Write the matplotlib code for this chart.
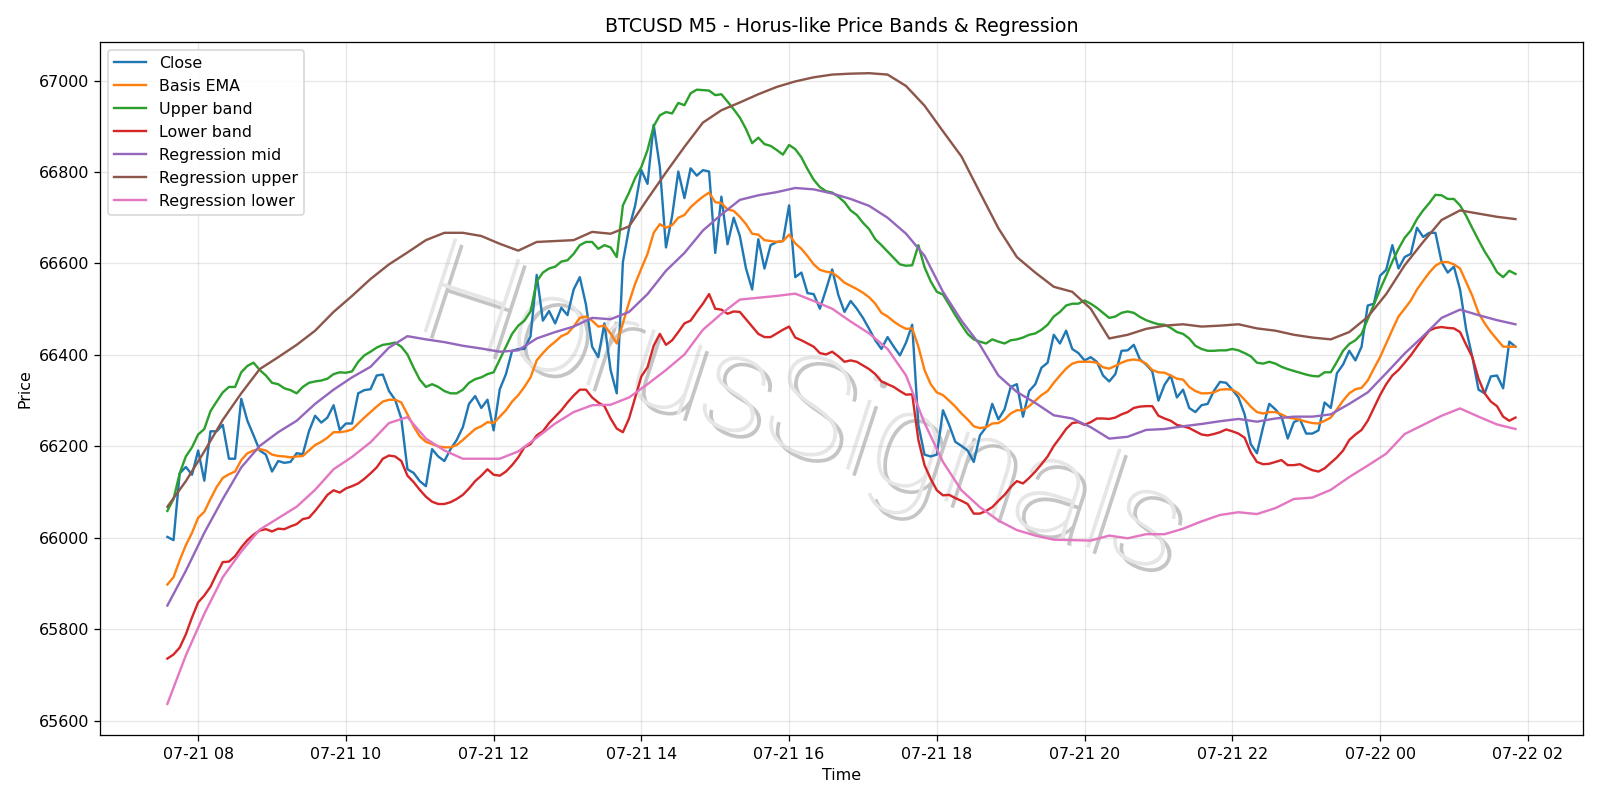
import matplotlib

matplotlib.use("Agg")
import matplotlib.pyplot as plt
import matplotlib.patheffects as pe
import pandas as pd

# 5-minute bars, 07-21 07:35 -> 07-22 01:50
start = "2024-07-21 07:35"
n_bars = 220

close = [
    66002, 65995, 66141, 66155, 66138, 66191, 66125, 66233, 66233, 66247, 66173, 66173, 66304, 66256,
    66224, 66191, 66182, 66145, 66168, 66164, 66166, 66185, 66183, 66233, 66267, 66252, 66263, 66290,
    66236, 66250, 66250, 66316, 66323, 66325, 66355, 66357, 66321, 66302, 66261, 66150, 66142, 66124,
    66113, 66194, 66178, 66168, 66194, 66214, 66242, 66293, 66310, 66284, 66302, 66235, 66325,
    66358, 66409, 66413, 66413, 66441, 66575, 66475, 66496, 66469, 66503, 66487, 66543, 66570, 66510,
    66418, 66395, 66469, 66367, 66316, 66603, 66677, 66727, 66804, 66774, 66903, 66811, 66635, 66704,
    66801, 66743, 66808, 66792, 66804, 66801, 66623, 66746, 66642, 66700, 66660, 66589, 66543, 66653,
    66589, 66640, 66647, 66649, 66727, 66570, 66580, 66535, 66533, 66501, 66543, 66587, 66531, 66494,
    66518, 66501, 66481, 66457, 66432, 66413, 66439, 66418, 66399, 66427, 66466, 66247, 66182, 66178,
    66182, 66279, 66247, 66210, 66201, 66191, 66166, 66224, 66242, 66293, 66259, 66281, 66330,
    66336, 66265, 66321, 66336, 66372, 66383, 66444, 66425, 66453, 66413, 66404, 66388, 66395, 66385,
    66355, 66342, 66358, 66409, 66410, 66422, 66390, 66379, 66364, 66300, 66335, 66355, 66307, 66324,
    66284, 66275, 66290, 66293, 66321, 66341, 66339, 66324, 66307, 66270, 66205, 66185, 66242, 66293,
    66281, 66265, 66217, 66253, 66259, 66228, 66228, 66235, 66296, 66284, 66360, 66379, 66409, 66388,
    66418, 66508, 66512, 66573, 66586, 66640, 66589, 66614, 66621, 66678, 66658, 66667, 66667, 66603,
    66580, 66593, 66543, 66455, 66395, 66324, 66316, 66353, 66355, 66327, 66429, 66418,
]

basis_ema = [
    65898, 65914, 65951, 65984, 66011, 66044, 66057, 66085, 66111, 66131, 66139, 66145, 66170, 66185,
    66191, 66194, 66191, 66182, 66179, 66178, 66176, 66178, 66179, 66191, 66203, 66210, 66219, 66231,
    66231, 66233, 66237, 66250, 66263, 66275, 66287, 66298, 66302, 66302, 66296, 66270, 66244, 66222,
    66210, 66205, 66200, 66198, 66198, 66203, 66214, 66226, 66238, 66244, 66253, 66251, 66265,
    66279, 66298, 66312, 66330, 66351, 66388, 66404, 66418, 66429, 66441, 66447, 66462, 66481, 66484,
    66475, 66462, 66464, 66447, 66425, 66469, 66515, 66556, 66589, 66621, 66667, 66686, 66678, 66684,
    66700, 66706, 66723, 66735, 66746, 66755, 66734, 66732, 66718, 66715, 66702, 66686, 66665, 66663,
    66651, 66649, 66647, 66649, 66663, 66644, 66632, 66616, 66598, 66586, 66582, 66580, 66570, 66558,
    66551, 66544, 66536, 66526, 66512, 66492, 66484, 66473, 66464, 66457, 66458, 66418, 66367, 66336,
    66318, 66312, 66300, 66287, 66272, 66259, 66244, 66240, 66242, 66250, 66251, 66259, 66272,
    66279, 66279, 66288, 66300, 66312, 66321, 66339, 66355, 66370, 66381, 66385, 66385, 66385, 66383,
    66373, 66370, 66376, 66383, 66388, 66390, 66388, 66381, 66367, 66362, 66361, 66355, 66348, 66346,
    66330, 66321, 66316, 66316, 66318, 66324, 66325, 66324, 66316, 66302, 66287, 66275, 66272, 66275,
    66275, 66270, 66263, 66261, 66258, 66254, 66251, 66250, 66256, 66263, 66281, 66300, 66316, 66325,
    66328, 66344, 66370, 66395, 66425, 66455, 66484, 66501, 66519, 66543, 66562, 66580, 66595, 66603,
    66603, 66598, 66589, 66559, 66529, 66492, 66469, 66450, 66434, 66418, 66418, 66418,
]

upper_band = [
    66059, 66085, 66141, 66178, 66198, 66226, 66238, 66277, 66298, 66318, 66330, 66330, 66362, 66376,
    66383, 66367, 66355, 66339, 66336, 66327, 66323, 66316, 66330, 66339, 66342, 66344, 66348, 66358,
    66362, 66361, 66364, 66385, 66399, 66407, 66416, 66422, 66424, 66427, 66418, 66401, 66372, 66346,
    66330, 66336, 66330, 66321, 66316, 66316, 66324, 66339, 66347, 66351, 66358, 66362, 66390,
    66418, 66446, 66464, 66475, 66495, 66561, 66580, 66589, 66593, 66604, 66607, 66621, 66640, 66647,
    66647, 66632, 66640, 66635, 66614, 66727, 66755, 66787, 66811, 66848, 66900, 66924, 66931, 66928,
    66951, 66946, 66972, 66980, 66979, 66978, 66968, 66970, 66954, 66937, 66919, 66894, 66863, 66875,
    66861, 66857, 66848, 66838, 66859, 66850, 66832, 66806, 66783, 66767, 66758, 66755, 66746, 66734,
    66716, 66706, 66689, 66675, 66653, 66640, 66626, 66612, 66598, 66595, 66596, 66640, 66592, 66561,
    66538, 66532, 66510, 66487, 66466, 66446, 66434, 66429, 66425, 66434, 66429, 66425, 66432,
    66434, 66438, 66444, 66447, 66455, 66466, 66484, 66494, 66508, 66512, 66512, 66519, 66512, 66503,
    66492, 66481, 66484, 66492, 66495, 66492, 66483, 66476, 66471, 66467, 66466, 66459, 66450, 66446,
    66436, 66420, 66413, 66409, 66409, 66410, 66410, 66413, 66410, 66404, 66397, 66383, 66381, 66385,
    66381, 66374, 66369, 66365, 66361, 66357, 66354, 66353, 66362, 66362, 66385, 66409, 66424, 66432,
    66446, 66478, 66510, 66543, 66573, 66604, 66632, 66656, 66672, 66697, 66716, 66732, 66750, 66749,
    66741, 66741, 66727, 66704, 66677, 66651, 66626, 66605, 66581, 66570, 66584, 66577,
]

lower_band = [
    65736, 65745, 65760, 65789, 65826, 65859, 65874, 65893, 65921, 65947, 65948, 65960, 65979, 65995,
    66007, 66016, 66019, 66014, 66020, 66019, 66025, 66030, 66041, 66044, 66059, 66076, 66094, 66104,
    66099, 66108, 66113, 66119, 66129, 66141, 66154, 66173, 66180, 66178, 66168, 66136, 66122, 66105,
    66090, 66079, 66074, 66074, 66078, 66085, 66094, 66108, 66124, 66136, 66150, 66138, 66136,
    66145, 66159, 66176, 66198, 66205, 66224, 66233, 66251, 66265, 66279, 66296, 66311, 66324, 66324,
    66307, 66296, 66288, 66261, 66239, 66231, 66261, 66307, 66353, 66373, 66420, 66446, 66422, 66432,
    66450, 66469, 66475, 66494, 66512, 66533, 66501, 66499, 66490, 66495, 66494, 66478, 66462, 66446,
    66439, 66439, 66447, 66455, 66462, 66438, 66432, 66425, 66418, 66404, 66401, 66407, 66397, 66385,
    66388, 66385, 66377, 66369, 66358, 66342, 66336, 66330, 66321, 66313, 66314, 66214, 66159, 66129,
    66104, 66093, 66094, 66087, 66081, 66074, 66053, 66053, 66059, 66067, 66081, 66094, 66111,
    66124, 66119, 66131, 66145, 66161, 66178, 66201, 66219, 66238, 66251, 66253, 66247, 66253, 66261,
    66261, 66260, 66263, 66270, 66275, 66284, 66287, 66288, 66288, 66267, 66261, 66256, 66247, 66244,
    66240, 66233, 66226, 66224, 66227, 66231, 66237, 66233, 66228, 66219, 66187, 66166, 66161, 66162,
    66166, 66170, 66159, 66159, 66161, 66154, 66148, 66145, 66152, 66164, 66176, 66191, 66214, 66226,
    66236, 66256, 66284, 66312, 66336, 66355, 66367, 66383, 66399, 66418, 66436, 66453, 66459, 66461,
    66459, 66458, 66450, 66422, 66395, 66348, 66316, 66298, 66288, 66265, 66256, 66263,
]

# regression channel, read every 15 minutes (every 3rd bar)
reg_mid = [
    65852, 65928, 66011, 66085, 66154, 66201, 66231, 66256, 66293, 66324,
    66351, 66374, 66416, 66441, 66434, 66428, 66420, 66414, 66407,
    66410, 66436, 66450, 66462, 66481, 66478, 66494, 66533, 66584,
    66623, 66672, 66707, 66739, 66749, 66756, 66765, 66762, 66753,
    66741, 66726, 66700, 66665, 66617, 66538, 66475, 66422, 66355,
    66319, 66295, 66268, 66261, 66242, 66217, 66221, 66236, 66238, 66244,
    66249, 66255, 66260, 66254, 66261, 66265, 66265, 66270, 66293,
    66318, 66360, 66403, 66441, 66481, 66499, 66487, 66476, 66467,
]

reg_upper = [
    66068, 66124, 66189, 66258, 66316, 66369, 66395, 66422, 66453, 66494,
    66529, 66566, 66598, 66624, 66651, 66667, 66667, 66660, 66643,
    66628, 66647, 66649, 66651, 66669, 66665, 66681, 66741, 66799,
    66855, 66908, 66935, 66952, 66970, 66986, 66998, 67007, 67013,
    67015, 67016, 67013, 66988, 66945, 66889, 66834, 66755, 66677,
    66614, 66580, 66549, 66538, 66501, 66436, 66444, 66457, 66464, 66467,
    66462, 66464, 66467, 66458, 66453, 66444, 66438, 66434, 66450,
    66483, 66533, 66596, 66647, 66695, 66716, 66709, 66702, 66697,
]

reg_lower = [
    65637, 65743, 65834, 65914, 65970, 66018, 66043, 66068, 66105, 66150,
    66177, 66209, 66251, 66264, 66217, 66191, 66173, 66173, 66173,
    66189, 66219, 66250, 66275, 66290, 66291, 66307, 66336, 66367,
    66401, 66455, 66490, 66521, 66525, 66529, 66534, 66518, 66501,
    66473, 66447, 66413, 66355, 66251, 66166, 66104, 66067, 66038,
    66017, 66005, 65996, 65995, 65994, 66005, 65999, 66008, 66008, 66020,
    66036, 66050, 66056, 66052, 66065, 66085, 66088, 66105, 66133,
    66158, 66184, 66227, 66247, 66267, 66283, 66265, 66248, 66238,
]


def main() -> None:
    times = pd.date_range(start, periods=n_bars, freq="5min")
    t15 = times[::3]

    fig, ax = plt.subplots(figsize=(14, 7), dpi=1600 / 14)
    ax.plot(times, close, label="Close")
    ax.plot(times, basis_ema, label="Basis EMA")
    ax.plot(times, upper_band, label="Upper band")
    ax.plot(times, lower_band, label="Lower band")
    ax.plot(t15, reg_mid, label="Regression mid")
    ax.plot(t15, reg_upper, label="Regression upper")
    ax.plot(t15, reg_lower, label="Regression lower")

    # faint rotated watermark with a drop shadow
    wm = ax.text(0.472, 0.462, "HorusSignals", transform=ax.transAxes,
                 ha="center", va="center", rotation=-18, fontsize=87,
                 family=["Roboto", "DejaVu Sans"], fontweight="light",
                 color="#e6e6e6", zorder=1.5)
    wm.set_path_effects([pe.withSimplePatchShadow(offset=(4, -4), shadow_rgbFace="#8c8c8c", alpha=0.5)])

    ax.set_title("BTCUSD M5 - Horus-like Price Bands & Regression")
    ax.set_xlabel("Time")
    ax.set_ylabel("Price")
    ax.grid(True, alpha=0.3)
    ax.legend(loc="upper left")
    fig.tight_layout()
    fig.savefig("out.png", dpi=fig.dpi)
    plt.close(fig)


if __name__ == "__main__":
    main()
